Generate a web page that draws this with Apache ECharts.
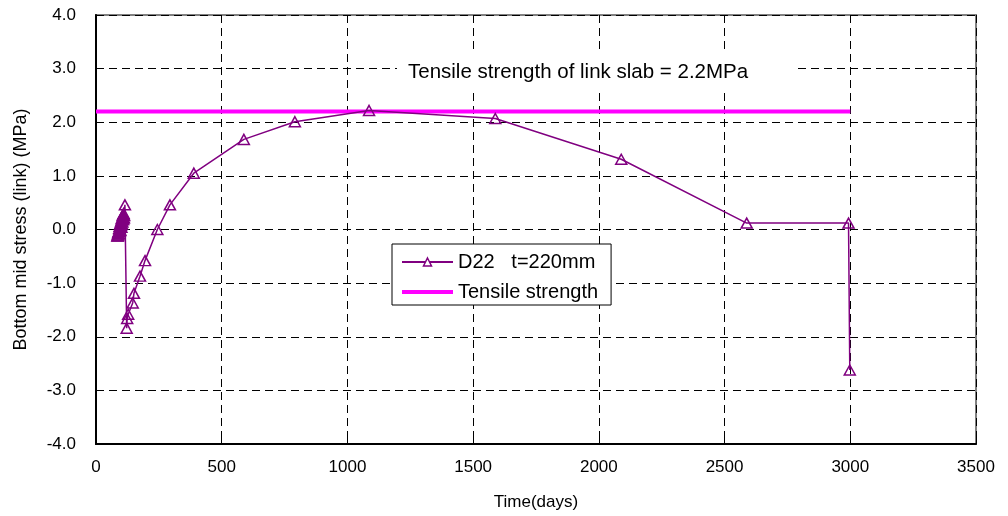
<!DOCTYPE html>
<html>
<head>
<meta charset="utf-8">
<script src="https://cdn.jsdelivr.net/npm/echarts@6/dist/echarts.min.js"></script>
<style>
  html, body { margin: 0; padding: 0; background: #fff; }
  #chart { width: 1008px; height: 516px; }
</style>
</head>
<body>
<div id="chart"></div>
<script>
// D22 t=220mm, bottom mid stress over time
const days = [85, 86, 87, 88, 89, 90, 91, 92, 93, 94, 95, 96, 97, 98, 99, 100, 101, 102, 103, 104, 105, 106, 107, 108, 109, 110, 111, 112,
  115, 122, 124, 128, 146, 151, 175, 195, 244, 294, 389, 588, 791, 1086, 1588, 2089, 2588, 2993, 2998];
const stress = [-0.12, -0.1, -0.12, -0.06, -0.1, -0.04, -0.08, 0.02, -0.04, 0.06, 0.0, 0.1, -0.02, 0.12, 0.08, 0.16, 0.04, 0.2, 0.1, 0.22, 0.14, 0.26, 0.18, 0.28, 0.2, 0.3, 0.22, 0.26,
  0.46, -1.84, -1.66, -1.58, -1.37, -1.19, -0.87, -0.58, 0.0, 0.46, 1.05, 1.68, 2.01, 2.22, 2.07, 1.31, 0.12, 0.12, -2.62];

// tensile strength line
const strengthDays = [0, 3000];
const strengthValues = [2.2, 2.2];

const seriesNames = ['D22   t=220mm', 'Tensile strength'];
const noteText = 'Tensile strength of link slab = 2.2MPa';

const FONT = 'Liberation Sans, Arial, sans-serif';

const chart = echarts.init(document.getElementById('chart'));

const option = {
  backgroundColor: '#fff',
  animation: false,
  grid: {
    left: 96, right: 32, top: 15, bottom: 72,
    show: true,
    borderColor: '#808080',
    borderWidth: 2,
  },
  legend: {
    data: [
      { name: seriesNames[0], itemStyle: { color: '#fff', borderColor: '#800080', borderWidth: 1.5 } },
      { name: seriesNames[1], itemStyle: { opacity: 0 }, lineStyle: { width: 4 } },
    ],
    orient: 'vertical',
    left: 392, top: 244,
    padding: [8, 13, 3, 8],
    itemGap: 10,
    itemWidth: 51,
    itemHeight: 10,
    backgroundColor: '#fff',
    borderColor: '#000',
    borderWidth: 1,
    borderRadius: 0,
    textStyle: { fontFamily: FONT, fontSize: 20, color: '#000' },
  },
  xAxis: {
    type: 'value',
    min: 0, max: 3500, interval: 500,
    name: 'Time(days)',
    nameLocation: 'middle',
    nameGap: 50,
    nameTextStyle: { fontFamily: FONT, fontSize: 17, color: '#000' },
    axisLine: { onZero: false, lineStyle: { color: '#000', width: 2 } },
    axisTick: { inside: true, length: 5, lineStyle: { color: '#000' } },
    axisLabel: { fontFamily: FONT, fontSize: 17, color: '#000', margin: 15, formatter: v => String(v) },
    splitLine: { lineStyle: { color: '#000', type: [8, 5], width: 1 } },
  },
  yAxis: {
    type: 'value',
    min: -4, max: 4, interval: 1,
    name: 'Bottom mid stress (link) (MPa)',
    nameLocation: 'middle',
    nameGap: 66,
    nameTextStyle: { fontFamily: FONT, fontSize: 18, color: '#000' },
    axisLine: { lineStyle: { color: '#000', width: 2 } },
    axisTick: { inside: true, length: 5, lineStyle: { color: '#000' } },
    axisLabel: {
      fontFamily: FONT, fontSize: 17, color: '#000', margin: 20,
      formatter: v => v.toFixed(1),
    },
    splitLine: { lineStyle: { color: '#000', type: [8, 5], width: 1 } },
  },
  graphic: [{
    type: 'text',
    left: 397, top: 54,
    z: 100,
    style: {
      text: noteText,
      fontFamily: FONT,
      fontSize: 20.5,
      fill: '#000',
      backgroundColor: '#fff',
      padding: [8, 45, 8, 11],
    },
  }],
  series: [
    {
      name: seriesNames[0],
      type: 'line',
      data: days.map((d, i) => [d, stress[i]]),
      symbol: 'triangle',
      symbolSize: [11, 10],
      showAllSymbol: true,
      lineStyle: { color: '#800080', width: 1.5 },
      itemStyle: { color: 'rgba(0,0,0,0)', borderColor: '#800080', borderWidth: 1.5 },
      z: 3,
    },
    {
      name: seriesNames[1],
      type: 'line',
      data: strengthDays.map((d, i) => [d, strengthValues[i]]),
      symbol: 'none',
      lineStyle: { color: '#ff00ff', width: 4 },
      itemStyle: { color: '#ff00ff' },
      z: 2,
    },
  ],
};

chart.setOption(option);
</script>
</body>
</html>
